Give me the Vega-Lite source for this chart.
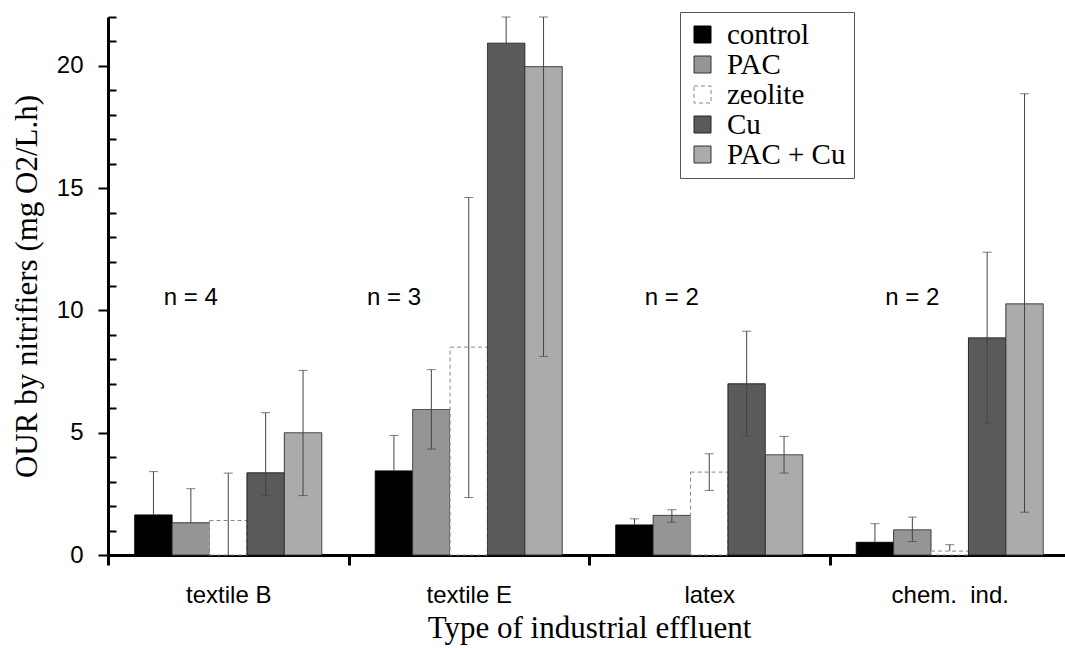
{
  "$schema": "https://vega.github.io/schema/vega-lite/v6.json",
  "width": 962,
  "height": 538,
  "autosize": {"type": "none"},
  "padding": {"left": 108, "top": 17, "right": 0, "bottom": 93},
  "background": "white",
  "config": {
    "view": {"stroke": null},
    "axis": {
      "labelFont": "Liberation Sans", "labelFontSize": 24, "labelColor": "black",
      "titleFont": "Liberation Serif", "titleFontSize": 31, "titleFontWeight": "normal", "titleColor": "black",
      "domainColor": "black", "domainWidth": 3, "tickColor": "black", "grid": false,
      "labelOverlap": false
    },
    "axisY": {"labelOverlap": false, "labelFlush": false}
  },
  "datasets": {
    "bars": [
      {"group": "textile B", "series": "control", "value": 1.64, "lo": 1.64, "hi": 3.41},
      {"group": "textile B", "series": "PAC", "value": 1.32, "lo": 1.32, "hi": 2.71},
      {"group": "textile B", "series": "zeolite", "value": 1.41, "lo": 0, "hi": 3.35},
      {"group": "textile B", "series": "Cu", "value": 3.36, "lo": 2.43, "hi": 5.82},
      {"group": "textile B", "series": "PAC + Cu", "value": 5.0, "lo": 2.43, "hi": 7.55},
      {"group": "textile E", "series": "control", "value": 3.44, "lo": 3.44, "hi": 4.89},
      {"group": "textile E", "series": "PAC", "value": 5.95, "lo": 4.33, "hi": 7.58},
      {"group": "textile E", "series": "zeolite", "value": 8.5, "lo": 2.35, "hi": 14.62},
      {"group": "textile E", "series": "Cu", "value": 20.93, "lo": 20.93, "hi": 22},
      {"group": "textile E", "series": "PAC + Cu", "value": 19.97, "lo": 8.12, "hi": 22},
      {"group": "latex", "series": "control", "value": 1.23, "lo": 1.23, "hi": 1.48},
      {"group": "latex", "series": "PAC", "value": 1.62, "lo": 1.34, "hi": 1.85},
      {"group": "latex", "series": "zeolite", "value": 3.39, "lo": 2.64, "hi": 4.14},
      {"group": "latex", "series": "Cu", "value": 7.0, "lo": 4.85, "hi": 9.15},
      {"group": "latex", "series": "PAC + Cu", "value": 4.1, "lo": 3.35, "hi": 4.85},
      {"group": "chem. \u00a0ind.", "series": "control", "value": 0.52, "lo": 0.52, "hi": 1.28},
      {"group": "chem. \u00a0ind.", "series": "PAC", "value": 1.03, "lo": 0.55, "hi": 1.55},
      {"group": "chem. \u00a0ind.", "series": "zeolite", "value": 0.16, "lo": 0.16, "hi": 0.42},
      {"group": "chem. \u00a0ind.", "series": "Cu", "value": 8.88, "lo": 5.4, "hi": 12.38},
      {"group": "chem. \u00a0ind.", "series": "PAC + Cu", "value": 10.27, "lo": 1.75, "hi": 18.86}
    ],
    "notes": [
      {"group": "textile B", "near": "PAC", "y": 10.5, "label": "n = 4"},
      {"group": "textile E", "near": "control", "y": 10.5, "label": "n = 3"},
      {"group": "latex", "near": "PAC", "y": 10.5, "label": "n = 2"},
      {"group": "chem. \u00a0ind.", "near": "PAC", "y": 10.5, "label": "n = 2"}
    ]
  },
  "encoding": {
    "x": {
      "field": "group", "type": "nominal",
      "sort": ["textile B", "textile E", "latex", "chem. \u00a0ind."],
      "scale": {"paddingInner": 0, "paddingOuter": 0},
      "axis": {
        "title": "Type of industrial effluent",
        "tickBand": "extent", "tickSize": 10, "tickWidth": 3,
        "labelPadding": 18, "labelAngle": 0, "titlePadding": 6
      }
    }
  },
  "layer": [
    {
      "data": {"name": "bars"},
      "mark": {"type": "bar", "strokeWidth": 1},
      "encoding": {
        "xOffset": {
          "field": "series", "type": "nominal",
          "scale": {"domain": ["control", "PAC", "zeolite", "Cu", "PAC + Cu"], "paddingInner": 0, "paddingOuter": 0.715}
        },
        "y": {
          "field": "value", "type": "quantitative", "stack": null,
          "scale": {"domain": [0, 22], "nice": false},
          "axis": {
            "title": "OUR by nitrifiers (mg O2/L.h)",
            "values": [0,1,2,3,4,5,6,7,8,9,10,11,12,13,14,15,16,17,18,19,20,21,22],
            "tickCount": 40,
            "format": "d",
            "labelExpr": "datum.value % 5 === 0 ? datum.label : ''",
            "labelOverlap": false,
            "labelFontSize": {"condition": {"test": "datum.value % 5 === 0", "value": 24}, "value": 1},
            "tickSize": {"condition": {"test": "datum.value % 5 === 0", "value": 10}, "value": -8},
            "tickWidth": 2,
            "labelPadding": 15,
            "titlePadding": 13
          }
        },
        "fill": {
          "field": "series", "type": "nominal",
          "scale": {"domain": ["control", "PAC", "zeolite", "Cu", "PAC + Cu"], "range": ["#000000", "#959595", "#ffffff", "#5a5a5a", "#ababab"]},
          "legend": {
            "orient": "none", "legendX": 572, "legendY": -5, "title": null,
            "symbolType": "square", "symbolSize": 289, "symbolStrokeWidth": 1,
            "labelFont": "Liberation Serif", "labelFontSize": 29, "labelColor": "black",
            "rowPadding": 0, "padding": 8, "strokeColor": "#555555", "fillColor": "white",
            "labelOffset": 10
          }
        },
        "stroke": {
          "field": "series", "type": "nominal",
          "scale": {"domain": ["control", "PAC", "zeolite", "Cu", "PAC + Cu"], "range": ["#000000", "#333333", "#888888", "#222222", "#333333"]}
        },
        "strokeDash": {
          "field": "series", "type": "nominal",
          "scale": {"domain": ["control", "PAC", "zeolite", "Cu", "PAC + Cu"], "range": [[1, 0], [1, 0], [4, 3], [1, 0], [1, 0]]}
        }
      }
    },
    {
      "data": {"name": "bars"},
      "mark": {"type": "rule", "color": "#444444", "strokeWidth": 1},
      "encoding": {
        "xOffset": {"field": "series", "type": "nominal"},
        "y": {"field": "lo", "type": "quantitative"},
        "y2": {"field": "hi"}
      }
    },
    {
      "data": {"name": "bars"},
      "mark": {"type": "tick", "color": "#444444", "thickness": 1, "size": 9},
      "encoding": {
        "xOffset": {"field": "series", "type": "nominal"},
        "y": {"field": "hi", "type": "quantitative"}
      }
    },
    {
      "data": {"name": "bars"},
      "transform": [{"filter": "datum.lo < datum.value && datum.lo > 0"}],
      "mark": {"type": "tick", "color": "#444444", "thickness": 1, "size": 9},
      "encoding": {
        "xOffset": {"field": "series", "type": "nominal"},
        "y": {"field": "lo", "type": "quantitative"}
      }
    },
    {
      "data": {"name": "notes"},
      "mark": {"type": "text", "font": "Liberation Sans", "fontSize": 24, "baseline": "middle", "color": "black"},
      "encoding": {
        "xOffset": {"field": "near", "type": "nominal"},
        "y": {"field": "y", "type": "quantitative"},
        "text": {"field": "label"}
      }
    }
  ]
}
